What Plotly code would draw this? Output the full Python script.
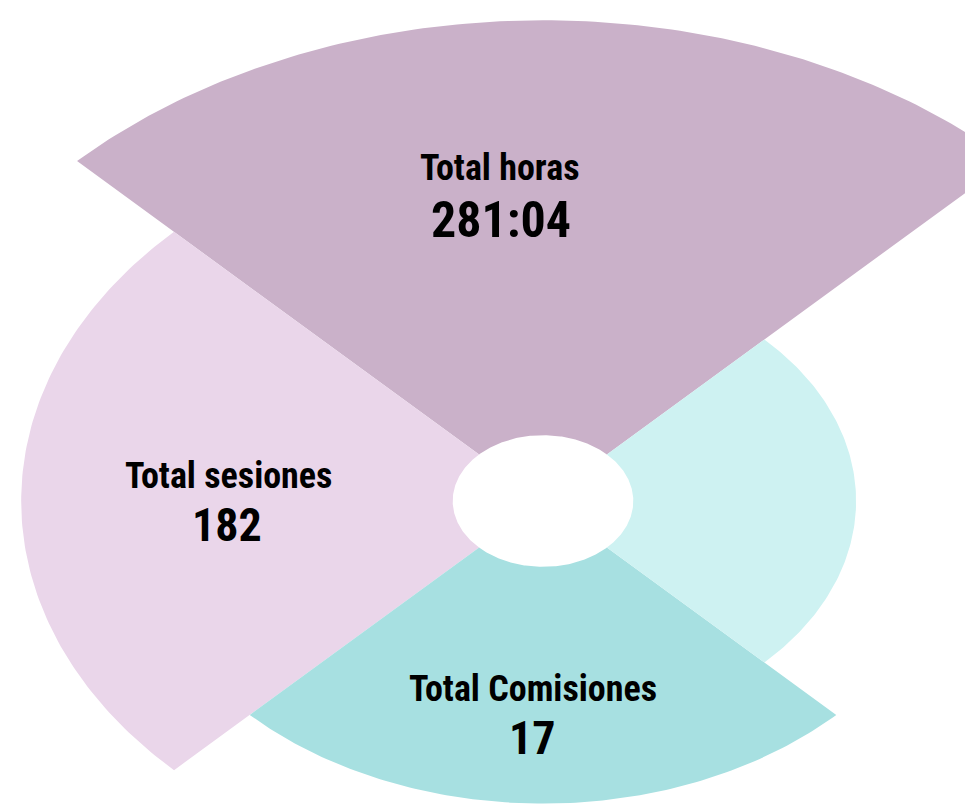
import numpy as np
import plotly.graph_objects as go

# ---- data ----
categories = ["Total horas", "Total sesiones", "Total Comisiones", ""]
value_labels = ["281:04", "182", "17", ""]
sector_radius = [98.5, 78, 62, 46.8]         # decorative radius of each wedge
sector_angle_deg = [90, 180, 270, 0]         # centre direction of each wedge
colors = ["#CAB1C9", "#EAD6EA", "#A7E0E1", "#CEF2F2"]
hole_radius = 13.5
sector_width_deg = 90

W, H = 973, 810
cx_px, cy_px = 535, 493          # centre of the rose in pixels
sx, sy = 6.69, 4.88              # pixels per unit (x stretched)

fig = go.Figure()
for name, r, ang, col in zip(categories, sector_radius, sector_angle_deg, colors):
    t = np.radians(np.linspace(ang - sector_width_deg / 2, ang + sector_width_deg / 2, 121))
    xs = np.concatenate([r * np.cos(t), hole_radius * np.cos(t[::-1])])
    ys = np.concatenate([r * np.sin(t), hole_radius * np.sin(t[::-1])])
    xs = np.append(xs, xs[0]); ys = np.append(ys, ys[0])
    fig.add_trace(go.Scatter(x=xs, y=ys, mode="lines", fill="toself",
                             fillcolor=col, line=dict(width=0, color=col),
                             name=name or "Otros", hoverinfo="name", showlegend=False))

# label placement (pixels): label x, label y, value x, value y, value font size
label_pos = [(492, 160, 493, 212, 50), (220, 468, 219, 517, 46), (525, 681, 524, 730, 46)]
font_family = "Liberation Sans Narrow, Arial Narrow, Roboto Condensed, Liberation Sans, Arial"
annotations = []
for (cat, val), (lx, ly, vx, vy, vs) in zip(zip(categories, value_labels), label_pos):
    annotations.append(dict(x=lx / W, y=1 - ly / H, xref="paper", yref="paper", text=f"<b>{cat}</b>",
                            showarrow=False, xanchor="center", yanchor="middle",
                            font=dict(family=font_family, size=36, color="#000000")))
    annotations.append(dict(x=vx / W, y=1 - vy / H, xref="paper", yref="paper", text=f"<b>{val}</b>",
                            showarrow=False, xanchor="center", yanchor="middle",
                            font=dict(family=font_family, size=vs, color="#000000")))

fig.update_layout(
    width=W, height=H,
    margin=dict(l=0, r=0, t=0, b=0),
    paper_bgcolor="white", plot_bgcolor="white",
    xaxis=dict(range=[-cx_px / sx, (W - cx_px) / sx], visible=False, fixedrange=True),
    yaxis=dict(range=[-(H - cy_px) / sy, cy_px / sy], visible=False, fixedrange=True),
    annotations=annotations,
    showlegend=False,
)
fig.write_html("out.html")
